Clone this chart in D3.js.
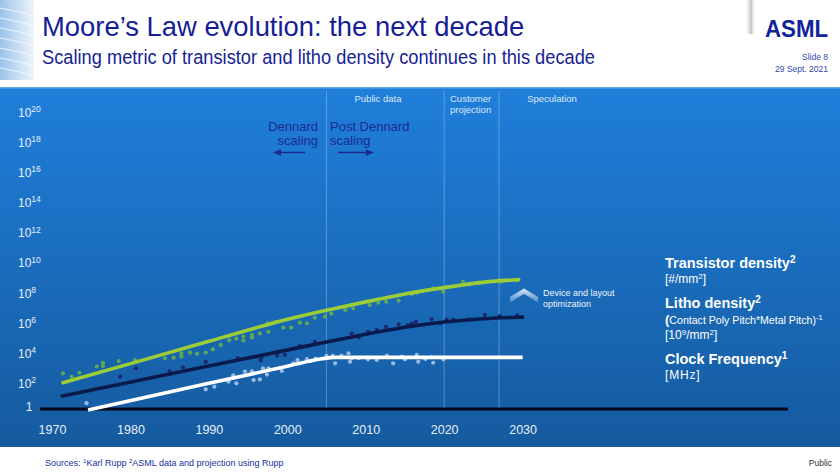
<!DOCTYPE html>
<html><head><meta charset="utf-8">
<script src="https://cdn.jsdelivr.net/npm/d3@7"></script>
<style>
body{margin:0;background:#fff;}
svg{display:block;font-family:"Liberation Sans",Arial,Helvetica,sans-serif;}
</style>
</head><body>
<svg id="chart" width="840" height="473"></svg>
<script>
// ---------- data ----------
const xTickYears = [1970, 1980, 1990, 2000, 2010, 2020, 2030];
const yTickExponents = [2, 4, 6, 8, 10, 12, 14, 16, 18, 20];
const eraBoundaries = [2005, 2020, 2027];

// trend lines [year, value]
const transistorTrend = [[1971.4,1.1e2],[1980,2.0e3],[1990,6.0e4],[2000,1.9e6],[2005,7.0e6],[2010,2.5e7],[2015,8.9e7],[2020,2.2e8],[2025,5.4e8],[2029.5,7.4e8]];
const lithoTrend = [[1971.3,1.45e1],[1980,1.2e2],[1990,1.4e3],[2000,1.6e4],[2005,5.5e4],[2010,1.8e5],[2015,5.4e5],[2020,1.2e6],[2025,2.0e6],[2030,2.45e6]];
const clockTrend = [[1974.6,1.7],[1990,1.0e2],[2000,1.35e3],[2004.4,4.2e3],[2006,5.25e3],[2030,5.25e3]];

// measured points [year, value]
const transistorPoints = [[1971.4,4.6e2],[1972.5,2.8e2],[1973.5,5.0e2],[1975.7,1.3e3],[1976.5,2.3e3],[1976.5,1.4e3],[1978.5,3.0e3],[1980.6,3.5e3],[1984.4,4.6e3],[1985.5,5.0e3],[1986.5,9.8e3],[1986.5,5.8e3],[1987.6,1.07e4],[1988.5,9.1e3],[1989.6,1.1e4],[1990.5,1.8e4],[1991.5,3.5e4],[1992.6,7.2e4],[1993.5,9.3e4],[1994.4,1.26e5],[1994.4,6.9e4],[1995.5,1.1e5],[1995.5,1.6e5],[1996.5,2.0e5],[1997.5,9.5e5],[1997.6,2.6e5],[1998.5,1.2e6],[1999.5,4.9e5],[2000.5,4.9e5],[2001.6,1.05e6],[2002.5,9.5e5],[2003.5,2.2e6],[2004.8,2.6e6],[2005.6,4.2e6],[2007.4,7.2e6],[2008.4,9.3e6],[2010.5,1.55e7],[2011.6,2.2e7],[2012.6,2.5e7],[2014.2,3.0e7],[2015.9,8.3e7],[2016.5,1.0e8],[2018.6,2.0e8],[2019.9,1.2e8],[2022.4,5.4e8],[2024.4,4.7e8],[2027.1,7.0e8],[2027.3,5.4e8],[2029.3,7.0e8]];
const lithoPoints = [[1978.7,2.8e2],[1980.7,1.0e3],[1985.0,6.3e2],[1986.7,1.15e3],[1989.6,2.6e3],[1993.7,4.6e3],[1996.6,3.4e3],[1996.7,5.5e3],[1998.7,6.8e3],[1999.7,7.6e3],[2001.6,3.0e4],[2003.5,5.5e4],[2008.2,2.0e5],[2009.1,1.1e5],[2010.3,2.6e5],[2011.4,3.4e5],[2012.6,5.6e5],[2014.2,8.1e5],[2015.4,7.3e5],[2015.9,9.5e5],[2016.4,1.2e6],[2018.4,1.75e6],[2019.5,9.5e5],[2020.3,1.6e6],[2021.2,1.6e6],[2023.2,1.75e6],[2025.2,3.4e6],[2027.1,2.9e6],[2029.3,3.2e6]];
const clockPoints = [[1974.4,4.8],[1989.6,40],[1990.7,60],[1992.5,130],[1993.1,340],[1993.5,100],[1994.6,600],[1995.5,630],[1995.7,165],[1996.5,180],[1996.9,1000],[1997.4,380],[1997.6,1000],[1999.3,660],[2000.8,2100],[2001.3,3500],[2002.5,4000],[2003.0,3100],[2003.6,4300],[2005.0,6500],[2005.8,6500],[2006.1,2100],[2006.9,6800],[2007.8,9800],[2008.0,2700],[2008.2,4600],[2009.1,4600],[2010.3,3900],[2011.4,3500],[2012.7,6800],[2013.5,2100],[2014.6,5800],[2015.0,3900],[2016.5,7600],[2016.7,2700],[2017.6,4100],[2018.4,5300],[2018.6,2300],[2019.9,3900]];

// ---------- drawing ----------
const svg = d3.select("#chart");
const defs = svg.append("defs");
const W = 840;
const navyText = "#171d96";

const bg = defs.append("linearGradient").attr("id","bg").attr("x1",0).attr("y1",0).attr("x2",0).attr("y2",1);
bg.append("stop").attr("offset","0%").attr("stop-color","#1f7fdb");
bg.append("stop").attr("offset","100%").attr("stop-color","#155a9e");

const deco = defs.append("linearGradient").attr("id","deco").attr("x1",0).attr("y1",0).attr("x2",1).attr("y2",0);
deco.append("stop").attr("offset","0%").attr("stop-color","#9cc3ea");
deco.append("stop").attr("offset","100%").attr("stop-color","#eef5fc");

const shade = defs.append("linearGradient").attr("id","shade").attr("x1",0).attr("y1",0).attr("x2",1).attr("y2",0);
shade.append("stop").attr("offset","0%").attr("stop-color","#ffffff").attr("stop-opacity",0);
shade.append("stop").attr("offset","60%").attr("stop-color","#9a9a9a").attr("stop-opacity",0.6);
shade.append("stop").attr("offset","100%").attr("stop-color","#ffffff").attr("stop-opacity",0);

const chev = defs.append("linearGradient").attr("id","chev").attr("x1",0).attr("y1",0).attr("x2",0).attr("y2",1);
chev.append("stop").attr("offset","0%").attr("stop-color","#e8f1fa").attr("stop-opacity",1);
chev.append("stop").attr("offset","100%").attr("stop-color","#8fb8e4").attr("stop-opacity",0.45);

// header decoration
svg.append("rect").attr("x",0).attr("y",0).attr("width",34).attr("height",80).attr("fill","url(#deco)");
[8,18,28,38,48,58,68].forEach(v => {
  svg.append("path").attr("d",`M0,${v} Q18,${v+3} 34,${v+8}`).attr("stroke","#ffffff").attr("stroke-opacity",0.7).attr("stroke-width",1.2).attr("fill","none");
});
svg.append("rect").attr("x",744).attr("y",0).attr("width",12).attr("height",34).attr("fill","url(#shade)");

// title
svg.append("text").attr("x",42).attr("y",36).attr("font-size",27.4).attr("fill",navyText)
  .text("Moore\u2019s Law evolution: the next decade");
svg.append("text").attr("x",42).attr("y",64).attr("font-size",20.5).attr("fill",navyText)
  .attr("textLength",553).attr("lengthAdjust","spacingAndGlyphs")
  .text("Scaling metric of transistor and litho density continues in this decade");

// logo & slide info
svg.append("text").attr("x",828).attr("y",37).attr("text-anchor","end").attr("font-size",24).attr("font-weight","900")
  .attr("fill","#10239a").attr("textLength",63).attr("lengthAdjust","spacingAndGlyphs").text("ASML");
svg.append("text").attr("x",828).attr("y",60).attr("text-anchor","end").attr("font-size",8.5).attr("fill","#3346b0").text("Slide 8");
svg.append("text").attr("x",828).attr("y",72).attr("text-anchor","end").attr("font-size",8.5).attr("fill","#3346b0").text("29 Sept. 2021");

// blue panel
svg.append("rect").attr("x",0).attr("y",87).attr("width",W).attr("height",360).attr("fill","url(#bg)");
svg.append("rect").attr("x",0).attr("y",87).attr("width",W).attr("height",1.5).attr("fill","#5ea6ec");

// scales
const x = d3.scaleLinear().domain([1970, 2030]).range([52, 522.6]);
const y = d3.scaleLog().domain([1, 1e20]).range([413.5, 111.7]);

// era gridlines
svg.append("g").selectAll("line").data(eraBoundaries).join("line")
  .attr("x1", d => x(d)).attr("x2", d => x(d)).attr("y1", 91).attr("y2", 409)
  .attr("stroke", "#ffffff").attr("stroke-opacity", 0.28).attr("stroke-width", 1);

// era labels
const light = "#dde9f7";
svg.append("text").attr("x",378).attr("y",101.5).attr("text-anchor","middle").attr("font-size",9.5).attr("fill",light).text("Public data");
svg.append("text").attr("x",450).attr("y",101.5).attr("font-size",9.5).attr("fill",light).text("Customer");
svg.append("text").attr("x",450).attr("y",113).attr("font-size",9.5).attr("fill",light).text("projection");
svg.append("text").attr("x",552).attr("y",101.5).attr("text-anchor","middle").attr("font-size",9.5).attr("fill",light).text("Speculation");

const dennC = "#1c2a90";
svg.append("text").attr("x",318).attr("y",131).attr("text-anchor","end").attr("font-size",13).attr("fill",dennC).text("Dennard");
svg.append("text").attr("x",318).attr("y",145).attr("text-anchor","end").attr("font-size",13).attr("fill",dennC).text("scaling");
svg.append("text").attr("x",330).attr("y",131).attr("font-size",13).attr("fill",dennC).text("Post Dennard");
svg.append("text").attr("x",330).attr("y",145).attr("font-size",13).attr("fill",dennC).text("scaling");
svg.append("line").attr("x1",305).attr("x2",279).attr("y1",152.5).attr("y2",152.5).attr("stroke",dennC).attr("stroke-width",1.5);
svg.append("path").attr("d","M273,152.5 L281,149.3 L281,155.7 Z").attr("fill",dennC);
svg.append("line").attr("x1",338).attr("x2",368).attr("y1",152.5).attr("y2",152.5).attr("stroke",dennC).attr("stroke-width",1.5);
svg.append("path").attr("d","M374,152.5 L366,149.3 L366,155.7 Z").attr("fill",dennC);

// y axis
const yAxisG = svg.append("g").attr("transform","translate(18,0)")
  .call(d3.axisLeft(y).tickValues(yTickExponents.map(e => Math.pow(10, e))).tickSize(0).tickFormat(""));
yAxisG.select(".domain").remove();
yAxisG.selectAll(".tick text").each(function(d) {
  const t = d3.select(this);
  t.attr("x", 0).attr("dy", "0.36em").attr("text-anchor", "start").attr("fill", "#e6effa")
    .attr("font-size", 12).attr("font-family", "Liberation Sans, Arial, sans-serif");
  t.append("tspan").text("10");
  t.append("tspan").attr("font-size", 8.5).attr("dy", "-0.55em").text(Math.round(Math.log10(d)));
});
svg.append("text").attr("x",29).attr("y",y(1) - 2.5).attr("text-anchor","middle").attr("font-size",12).attr("fill","#e6effa").text("1");

// x axis
const xAxisG = svg.append("g").attr("transform","translate(0,409)")
  .call(d3.axisBottom(x).tickValues(xTickYears).tickFormat(d3.format("d")).tickSize(0).tickPadding(16.5));
xAxisG.select(".domain").remove();
xAxisG.selectAll(".tick text").attr("fill","#e6effa").attr("font-size",12.5)
  .attr("font-family","Liberation Sans, Arial, sans-serif");

// scatter points (behind lines)
const dots = svg.append("g");
dots.selectAll(".tp").data(transistorPoints).join("circle").attr("class","tp")
  .attr("cx", d => x(d[0])).attr("cy", d => y(d[1])).attr("r", 2.1).attr("fill", "#5fa758");
dots.selectAll(".lp").data(lithoPoints).join("circle").attr("class","lp")
  .attr("cx", d => x(d[0])).attr("cy", d => y(d[1])).attr("r", 2.1).attr("fill", "#1a2a6c");
dots.selectAll(".cp").data(clockPoints).join("circle").attr("class","cp")
  .attr("cx", d => x(d[0])).attr("cy", d => y(d[1])).attr("r", 2.1).attr("fill", "#98bbe3");

// baseline (x axis line)
svg.append("line").attr("x1",40).attr("x2",788).attr("y1",409).attr("y2",409).attr("stroke","#07091a").attr("stroke-width",3);

// trend lines
const smooth = d3.line().x(d => x(d[0])).y(d => y(d[1])).curve(d3.curveBasis);
const knee = d3.line().x(d => x(d[0])).y(d => y(d[1])).curve(d3.curveMonotoneX);
svg.append("path").datum(transistorTrend).attr("d", smooth).attr("fill","none").attr("stroke","#9ccd38").attr("stroke-width",3.6).attr("stroke-linecap","round");
svg.append("path").datum(lithoTrend).attr("d", smooth).attr("fill","none").attr("stroke","#0b1a4c").attr("stroke-width",3.6).attr("stroke-linecap","round");
svg.append("path").datum(clockTrend).attr("d", knee).attr("fill","none").attr("stroke","#ffffff").attr("stroke-width",3.6).attr("stroke-linecap","butt");

// chevron + note
svg.append("path").attr("d","M510,297 L524,288.5 L538,297 L538,302.5 L524,294 L510,302.5 Z").attr("fill","url(#chev)");
svg.append("text").attr("x",543).attr("y",295.5).attr("font-size",9).attr("fill","#eef4fb").text("Device and layout");
svg.append("text").attr("x",543).attr("y",306.5).attr("font-size",9).attr("fill","#eef4fb").text("optimization");

// legend text
const leg = svg.append("g").attr("fill","#ffffff");
function heading(yy, label, sup) {
  const t = leg.append("text").attr("x",665).attr("y",yy).attr("font-size",14.5).attr("font-weight","bold");
  t.append("tspan").text(label);
  t.append("tspan").attr("font-size",10).attr("dy",-5).text(sup);
}
heading(268, "Transistor density", "2");
const u1 = leg.append("text").attr("x",665).attr("y",283).attr("font-size",12);
u1.append("tspan").text("[#/mm");
u1.append("tspan").attr("font-size",8).attr("dy",-4).text("2");
u1.append("tspan").attr("dy",4).text("]");

heading(308, "Litho density", "2");
const u2 = leg.append("text").attr("x",665).attr("y",324).attr("font-size",10.6);
u2.append("tspan").attr("font-size",13).attr("font-weight","bold").text("(");
u2.append("tspan").text("Contact Poly Pitch*Metal Pitch)");
u2.append("tspan").attr("font-size",7.5).attr("dy",-4.5).text("-1");
const u3 = leg.append("text").attr("x",665).attr("y",339).attr("font-size",12);
u3.append("tspan").text("[10");
u3.append("tspan").attr("font-size",8).attr("dy",-4).text("9");
u3.append("tspan").attr("dy",4).text("/mm");
u3.append("tspan").attr("font-size",8).attr("dy",-4).text("2");
u3.append("tspan").attr("dy",4).text("]");

heading(364, "Clock Frequency", "1");
leg.append("text").attr("x",665).attr("y",379).attr("font-size",12).attr("letter-spacing",0.8).text("[MHz]");

// footer
const src = svg.append("text").attr("x",45).attr("y",466).attr("font-size",9).attr("fill","#2030a0");
src.append("tspan").text("Sources: ");
src.append("tspan").attr("font-size",6).attr("dy",-3).text("1");
src.append("tspan").attr("dy",3).text("Karl Rupp ");
src.append("tspan").attr("font-size",6).attr("dy",-3).text("2");
src.append("tspan").attr("dy",3).text("ASML data and projection using Rupp");
svg.append("text").attr("x",832).attr("y",466).attr("text-anchor","end").attr("font-size",8.5).attr("fill","#333333").text("Public");
</script>
</body></html>
